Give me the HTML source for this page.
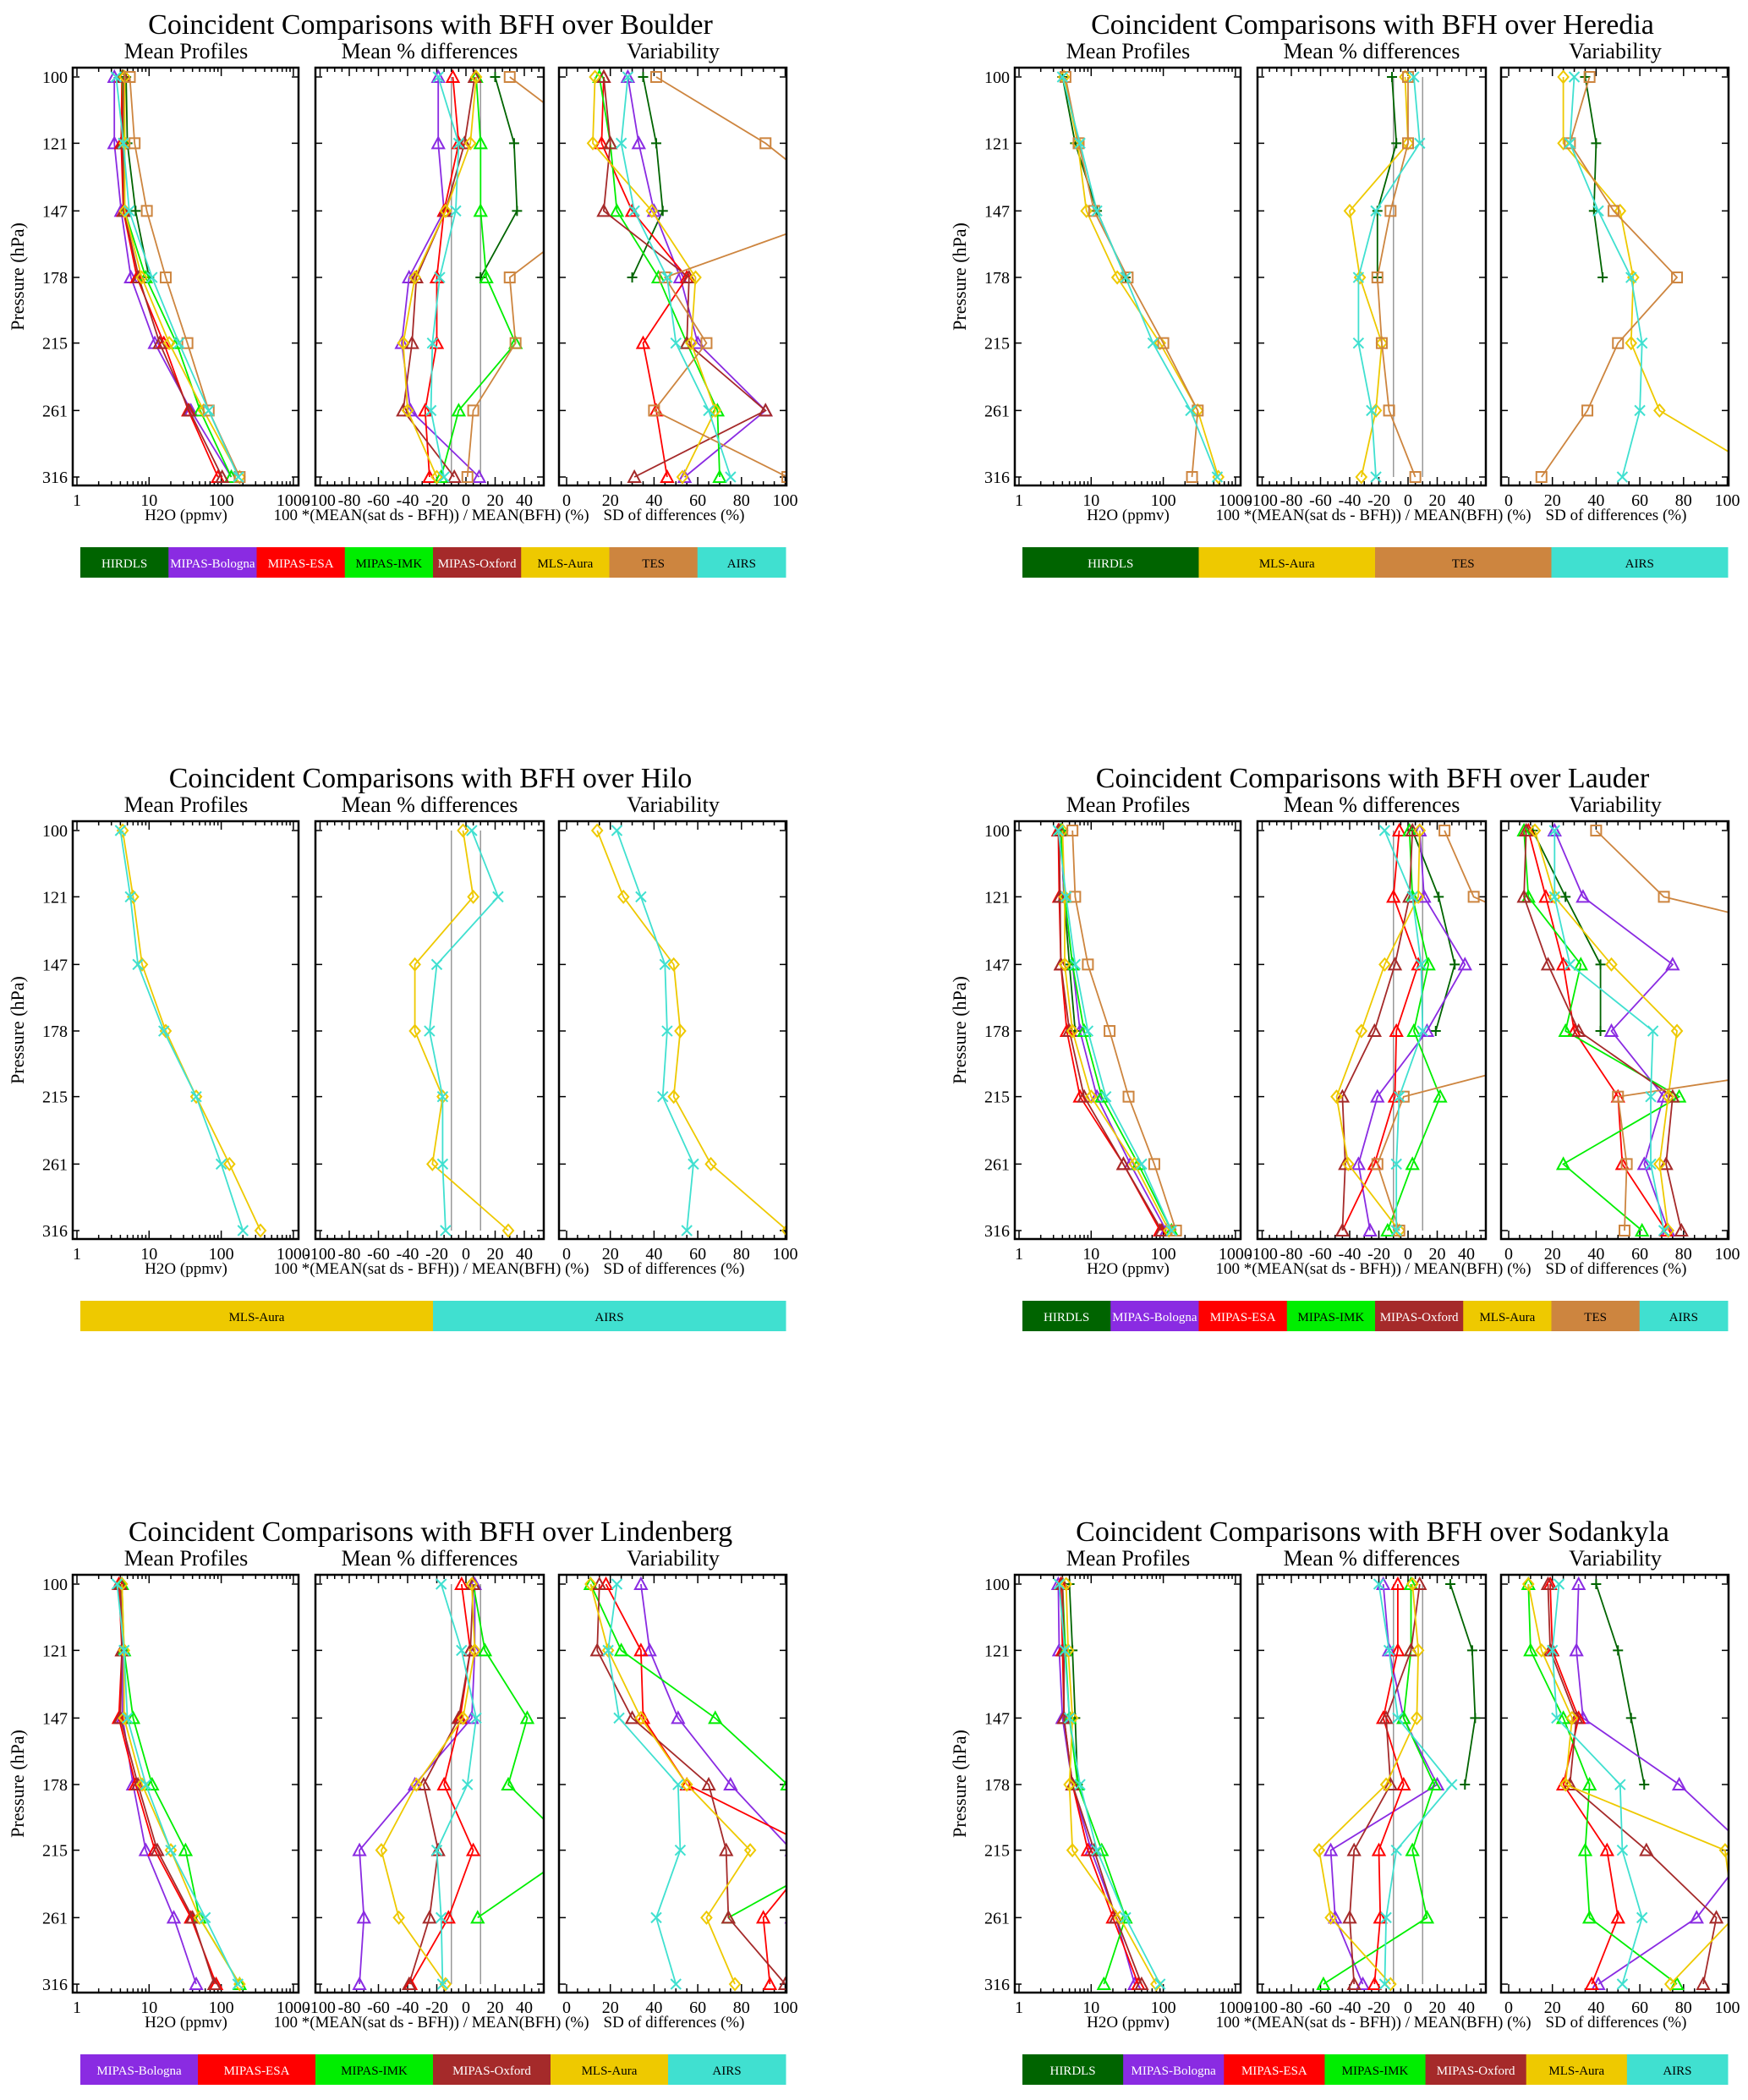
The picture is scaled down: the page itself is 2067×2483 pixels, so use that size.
<!DOCTYPE html>
<html><head><meta charset="utf-8"><style>
html,body{margin:0;padding:0;background:#fff;}
svg{display:block;font-family:"Liberation Serif",serif;}
</style></head><body>
<svg id="root" xmlns="http://www.w3.org/2000/svg" width="2067" height="2483" viewBox="0 0 2067 2483"></svg>
<script>
const LEVELS = [100,121,147,178,215,261,316];
const INSTRUMENTS = ['HIRDLS','MIPAS-Bologna','MIPAS-ESA','MIPAS-IMK','MIPAS-Oxford','MLS-Aura','TES','AIRS'];
const COLORS = {'HIRDLS':'#006400','MIPAS-Bologna':'#8a2be2','MIPAS-ESA':'#ff0000','MIPAS-IMK':'#00ee00','MIPAS-Oxford':'#a52a2a','MLS-Aura':'#eec900','TES':'#cd853f','AIRS':'#40e0d0'};
const TEXTCOL = {'HIRDLS':'#fff','MIPAS-Bologna':'#fff','MIPAS-ESA':'#fff','MIPAS-IMK':'#000','MIPAS-Oxford':'#fff','MLS-Aura':'#000','TES':'#000','AIRS':'#000'};
const MARKERS = {'HIRDLS':'plus','MIPAS-Bologna':'tri','MIPAS-ESA':'tri','MIPAS-IMK':'tri','MIPAS-Oxford':'tri','MLS-Aura':'diamond','TES':'square','AIRS':'x'};
const MEAN_TICKS = ['1','10','100','1000'];
const DIFF_TICKS = [-100,-80,-60,-40,-20,0,20,40];
const SD_TICKS = [0,20,40,60,80,100];
const N = null;

// ---- Boulder ----
const boulderInst = ['HIRDLS','MIPAS-Bologna','MIPAS-ESA','MIPAS-IMK','MIPAS-Oxford','MLS-Aura','TES','AIRS'];
const boulderMean = {'HIRDLS':[4.8,5,6.5,10,N,N,N],'MIPAS-Bologna':[3.3,3.3,4.1,5.6,12,38,138],'MIPAS-ESA':[4.2,4.1,4.4,6.8,16,35,90],'MIPAS-IMK':[4.3,4.4,4.6,9,24,51,138],'MIPAS-Oxford':[4.4,4.3,4.5,7.2,14,36,103],'MLS-Aura':[4.6,4.6,4.6,7.9,19,57,180],'TES':[5.4,6.3,9.3,17,34,67,180],'AIRS':[3.5,4.4,5.3,11,26,67,173]};
const boulderDiff = {'HIRDLS':[20,33,35,10,N,N,N],'MIPAS-Bologna':[-19,-19,-15,-39,-44,-38,9],'MIPAS-ESA':[-9,-5,-15,-20,-20,-28,-25],'MIPAS-IMK':[7,10,10,14,34,-5,-17],'MIPAS-Oxford':[6,-1,-14,-34,-37,-43,-8],'MLS-Aura':[7,3,-14,-35,-43,-40,-20],'TES':[30,90,90,30,34,5,1],'AIRS':[-19,-5,-7,-18,-23,-24,-15]};
const boulderSd = {'HIRDLS':[35,41,44,30,N,N,N],'MIPAS-Bologna':[28,33,40,52,60,91,54],'MIPAS-ESA':[17,16,30,55,35,41,46],'MIPAS-IMK':[15,20,23,42,55,69,70],'MIPAS-Oxford':[17,20,17,56,55,91,31],'MLS-Aura':[13,12,39,59,57,68,53],'TES':[41,91,130,45,64,40,101],'AIRS':[28,25,31,46,50,65,75]};

// ---- Heredia ----
const herediaInst = ['HIRDLS','MLS-Aura','TES','AIRS'];
const herediaMean = {'HIRDLS':[4,6,12,30,N,N,N],'MLS-Aura':[4.2,6.5,8.6,23,90,300,580],'TES':[4.4,6.7,11,32,100,300,250],'AIRS':[4,7,12,30,72,240,560]};
const herediaDiff = {'HIRDLS':[-11,-8,-21,-21,N,N,N],'MLS-Aura':[-2,0,-40,-33,-18,-22,-32],'TES':[0,0,-12,-21,-18,-13,5],'AIRS':[4,8,-22,-34,-34,-25,-22]};
const herediaSd = {'HIRDLS':[35,40,39,43,N,N,N],'MLS-Aura':[25,25,51,57,56,69,120],'TES':[37,28,48,77,50,36,15],'AIRS':[30,28,41,56,61,60,52]};

// ---- Hilo ----
const hiloInst = ['MLS-Aura','AIRS'];
const hiloMean = {'MLS-Aura':[4.3,6,8,17,45,130,350],'AIRS':[4,5.5,7,16,45,100,200]};
const hiloDiff = {'MLS-Aura':[-2,5,-35,-35,-16,-23,29],'AIRS':[4,22,-20,-25,-16,-16,-14]};
const hiloSd = {'MLS-Aura':[14,26,49,52,49,66,101],'AIRS':[23,34,45,46,44,58,55]};

// ---- Lauder ----
const lauderInst = ['HIRDLS','MIPAS-Bologna','MIPAS-ESA','MIPAS-IMK','MIPAS-Oxford','MLS-Aura','TES','AIRS'];
const lauderMean = {'HIRDLS':[3.8,4.2,5,6,N,N,N],'MIPAS-Bologna':[3.8,4.2,5.5,7,12,35,110],'MIPAS-ESA':[3.5,3.6,3.8,4.6,7,28,90],'MIPAS-IMK':[3.8,4.3,5.5,8,14,45,130],'MIPAS-Oxford':[3.6,3.7,3.8,5,8,28,95],'MLS-Aura':[4,4.3,4.3,5.5,10,40,120],'TES':[5.5,6,9,18,33,75,150],'AIRS':[3.5,4.5,6,9,16,50,130]};
const lauderDiff = {'HIRDLS':[3,21,32,19,N,N,N],'MIPAS-Bologna':[8,11,39,13,-21,-34,-26],'MIPAS-ESA':[-6,-10,7,-8,-9,-23,-45],'MIPAS-IMK':[1,3,14,4,22,3,-14],'MIPAS-Oxford':[3,1,-9,-23,-45,-43,-45],'MLS-Aura':[8,7,-16,-32,-49,-41,-6],'TES':[25,45,150,170,-3,-21,-6],'AIRS':[-16,3,9,10,-6,-8,-8]};
const lauderSd = {'HIRDLS':[11,26,42,42,N,N,N],'MIPAS-Bologna':[21,34,75,47,71,62,73],'MIPAS-ESA':[9,17,25,30,50,52,72],'MIPAS-IMK':[7,9,33,26,78,25,61],'MIPAS-Oxford':[8,7,18,32,75,72,79],'MLS-Aura':[12,21,47,77,73,69,73],'TES':[40,71,200,250,50,54,53],'AIRS':[21,21,28,66,65,65,71]};

// ---- Lindenberg ----
const lindenbergInst = ['MIPAS-Bologna','MIPAS-ESA','MIPAS-IMK','MIPAS-Oxford','MLS-Aura','AIRS'];
const lindenbergMean = {'MIPAS-Bologna':[4,4.3,4.3,6,9,22,45],'MIPAS-ESA':[3.8,4.2,3.8,6.5,12,38,85],'MIPAS-IMK':[4.2,4.5,6,11,32,50,180],'MIPAS-Oxford':[4,4.2,4,7,13,40,80],'MLS-Aura':[4.2,4.5,4.5,8,20,50,180],'AIRS':[3.6,4.5,5,9,20,60,170]};
const lindenbergDiff = {'MIPAS-Bologna':[6,6,4,-35,-73,-70,-73],'MIPAS-ESA':[-3,3,-4,-15,5,-12,-38],'MIPAS-IMK':[5,13,42,29,75,8,N],'MIPAS-Oxford':[5,3,-5,-29,-19,-25,-39],'MLS-Aura':[4,6,-2,-34,-58,-46,-14],'AIRS':[-17,-3,7,1,-20,-17,-16]};
const lindenbergSd = {'MIPAS-Bologna':[34,38,51,75,103,103,110],'MIPAS-ESA':[18,34,35,55,115,90,93],'MIPAS-IMK':[11,25,68,101,130,74,N],'MIPAS-Oxford':[15,14,30,65,73,74,100],'MLS-Aura':[11,19,34,55,84,64,77],'AIRS':[23,19,24,51,52,41,50]};

// ---- Sodankyla ----
const sodankylaInst = ['HIRDLS','MIPAS-Bologna','MIPAS-ESA','MIPAS-IMK','MIPAS-Oxford','MLS-Aura','AIRS'];
const sodankylaMean = {'HIRDLS':[5,5.5,6,6.5,N,N,N],'MIPAS-Bologna':[3.5,3.6,4,5.5,10,22,40],'MIPAS-ESA':[3.8,4,4.2,5.5,9,20,45],'MIPAS-IMK':[4,4.4,5,6.5,14,30,15],'MIPAS-Oxford':[4,4.2,4.2,5.5,11,22,50],'MLS-Aura':[4.5,4.8,5.5,5,5.5,25,80],'AIRS':[3.6,4.3,5,7,12,30,90]};
const sodankylaDiff = {'HIRDLS':[29,44,46,39,N,N,N],'MIPAS-Bologna':[-17,-13,-3,20,-53,-50,-31],'MIPAS-ESA':[-7,-7,-17,-3,-20,-19,-23],'MIPAS-IMK':[2,2,-3,18,3,13,-58],'MIPAS-Oxford':[8,2,-15,-12,-37,-40,-37],'MLS-Aura':[3,7,6,-15,-61,-53,-12],'AIRS':[-20,-13,-7,30,-8,-15,-16]};
const sodankylaSd = {'HIRDLS':[40,50,56,62,N,N,N],'MIPAS-Bologna':[32,31,34,78,110,86,41],'MIPAS-ESA':[19,20,32,25,45,50,38],'MIPAS-IMK':[9,10,25,37,35,37,77],'MIPAS-Oxford':[18,19,31,28,63,95,89],'MLS-Aura':[9,15,29,26,99,103,74],'AIRS':[23,20,22,51,52,61,52]};

const CHARTS = [
 {id:'boulder',site:'Boulder',dx:0,dy:0,inst:boulderInst,mean:boulderMean,diff:boulderDiff,sd:boulderSd},
 {id:'heredia',site:'Heredia',dx:1114,dy:0,inst:herediaInst,mean:herediaMean,diff:herediaDiff,sd:herediaSd},
 {id:'hilo',site:'Hilo',dx:0,dy:891,inst:hiloInst,mean:hiloMean,diff:hiloDiff,sd:hiloSd},
 {id:'lauder',site:'Lauder',dx:1114,dy:891,inst:lauderInst,mean:lauderMean,diff:lauderDiff,sd:lauderSd},
 {id:'lindenberg',site:'Lindenberg',dx:0,dy:1782,inst:lindenbergInst,mean:lindenbergMean,diff:lindenbergDiff,sd:lindenbergSd},
 {id:'sodankyla',site:'Sodankyla',dx:1114,dy:1782,inst:sodankylaInst,mean:sodankylaMean,diff:sodankylaDiff,sd:sodankylaSd}
];

const NS='http://www.w3.org/2000/svg';
const root=document.getElementById('root');
function mk(tag,attrs,parent){const e=document.createElementNS(NS,tag);for(const k in attrs)e.setAttribute(k,attrs[k]);if(parent)parent.appendChild(e);return e;}

const PT=80, PB=574;
const PANELS=[{x0:86,x1:353},{x0:373,x1:643},{x0:661,x1:930}];
function yP(p){return 91+Math.log10(p/100)/Math.log10(3.16)*(564-91);}
function xMean(v){return 91+85.3*Math.log10(v);}
function xDiff(v){return 551+1.725*v;}
function xSd(v){return 670+2.585*v;}

function marker(g,type,x,y,col){
  let e;
  if(type==='tri'){e=mk('polygon',{points:`${x-7},${y+6} ${x+7},${y+6} ${x},${y-7}`,fill:'none',stroke:col,'stroke-width':2},g);}
  else if(type==='diamond'){e=mk('polygon',{points:`${x},${y-7} ${x+6},${y} ${x},${y+7} ${x-6},${y}`,fill:'none',stroke:col,'stroke-width':2},g);}
  else if(type==='square'){e=mk('rect',{x:x-6,y:y-6,width:12,height:12,fill:'none',stroke:col,'stroke-width':2},g);}
  else if(type==='x'){e=mk('path',{d:`M${x-6},${y-6}L${x+6},${y+6}M${x-6},${y+6}L${x+6},${y-6}`,stroke:col,'stroke-width':2,fill:'none'},g);}
  else {e=mk('path',{d:`M${x-6},${y}L${x+6},${y}M${x},${y-6}L${x},${y+6}`,stroke:col,'stroke-width':2,fill:'none'},g);}
  
  
}

function drawSeries(g,vals,xf,inst){
  const col=COLORS[inst];
  let d='';let pen=false;
  vals.forEach((v,i)=>{ if(v===null){pen=false;return;} const x=xf(v),y=yP(LEVELS[i]); d+=(pen?'L':'M')+x.toFixed(1)+','+y.toFixed(1); pen=true;});
  const sg=mk('g',{},g);
  
  
  const p=mk('path',{d:d,fill:'none',stroke:col,'stroke-width':1.8},sg);
  
  
  vals.forEach((v,i)=>{ if(v===null)return; marker(sg,MARKERS[inst],xf(v),yP(LEVELS[i]),col);});
}

CHARTS.forEach(c=>{
  const g=mk('g',{transform:`translate(${c.dx},${c.dy})`},root);
  
  
  const t=mk('text',{x:509,y:40,'text-anchor':'middle','font-size':34},g);
  t.textContent='Coincident Comparisons with BFH over '+c.site;
  
  
  const subs=['Mean Profiles','Mean % differences','Variability'];
  const subx=[220,508,796];
  subs.forEach((s,i)=>{const e=mk('text',{x:subx[i],y:69,'text-anchor':'middle','font-size':26},g);e.textContent=s;
    
    });
  const yl=mk('text',{x:0,y:0,transform:'translate(28,327) rotate(-90)','text-anchor':'middle','font-size':22},g);
  yl.textContent='Pressure (hPa)';
  
  
  LEVELS.forEach(p=>{const e=mk('text',{x:80,y:yP(p)+7,'text-anchor':'end','font-size':20},g);e.textContent=String(p);
    
    });
  const xfs=[xMean,xDiff,xSd];
  const datas=[c.mean,c.diff,c.sd];
  const names=['mean-profiles-panel','mean-diff-panel','variability-panel'];
  PANELS.forEach((P,pi)=>{
    const pg=mk('g',{},g);
    
    
    const cid='clip-'+c.id+'-'+pi;
    const cp=mk('clipPath',{id:cid},pg);
    mk('rect',{x:P.x0,y:PT,width:P.x1-P.x0,height:PB-PT},cp);
    let td='';
    if(pi===0){
      for(let d=0;d<3;d++)for(let k=1;k<10;k++){const x=xMean(k*Math.pow(10,d));const L=k===1?10:5;td+=`M${x},${PB}v${-L}M${x},${PT}v${L}`;}
      const x=xMean(1000);td+=`M${x},${PB}v-10M${x},${PT}v10`;
    } else if(pi===1){
      for(let v=-100;v<=50;v+=5){const x=xDiff(v);const L=v%20===0?10:5;td+=`M${x},${PB}v${-L}M${x},${PT}v${L}`;}
    } else {
      for(let v=0;v<=100;v+=5){const x=xSd(v);const L=v%20===0?10:5;td+=`M${x},${PB}v${-L}M${x},${PT}v${L}`;}
    }
    LEVELS.forEach(p=>{const y=yP(p);td+=`M${P.x0},${y}h8M${P.x1},${y}h-8`;});
    const tk=mk('path',{d:td,stroke:'#000','stroke-width':1.5,fill:'none'},pg);
    
    
    const dg=mk('g',{'clip-path':`url(#${cid})`},pg);
    if(pi===1){[-10,10].forEach(v=>{const gl=mk('line',{x1:xDiff(v),x2:xDiff(v),y1:yP(100),y2:yP(316),stroke:'#999','stroke-width':1.5},dg);
      
      });}
    c.inst.forEach(inst=>{drawSeries(dg,datas[pi][inst],xfs[pi],inst);});
    const fr=mk('rect',{x:P.x0,y:PT,width:P.x1-P.x0,height:PB-PT,fill:'none',stroke:'#000','stroke-width':2.5},pg);
    
    
    const labs = pi===0 ? MEAN_TICKS.map(s=>[xMean(+s),s]) : pi===1 ? DIFF_TICKS.map(v=>[xDiff(v),String(v)]) : SD_TICKS.map(v=>[xSd(v),String(v)]);
    labs.forEach(([x,s])=>{const e=mk('text',{x:x,y:598,'text-anchor':'middle','font-size':20},pg);e.textContent=s;
      
      });
  });
  const ats=['H2O (ppmv)','100 *(MEAN(sat ds - BFH)) / MEAN(BFH) (%)','SD of differences (%)'];
  const atx=[220,510,797];
  ats.forEach((s,i)=>{const e=mk('text',{x:atx[i],y:615,'text-anchor':'middle','font-size':19},g);e.textContent=s;
    
    });
  const lg=mk('g',{},g);
  
  
  const L0=95,L1=929,w=(L1-L0)/c.inst.length;
  c.inst.forEach((inst,i)=>{
    const eg=mk('g',{},lg);
    
    
    mk('rect',{x:L0+i*w,y:647,width:w+0.5,height:36,fill:COLORS[inst]},eg);
    const tx=mk('text',{x:L0+i*w+w/2,y:671,'text-anchor':'middle','font-size':15,fill:TEXTCOL[inst]},eg);
    tx.textContent=inst;
  });
});
</script>
</body></html>
